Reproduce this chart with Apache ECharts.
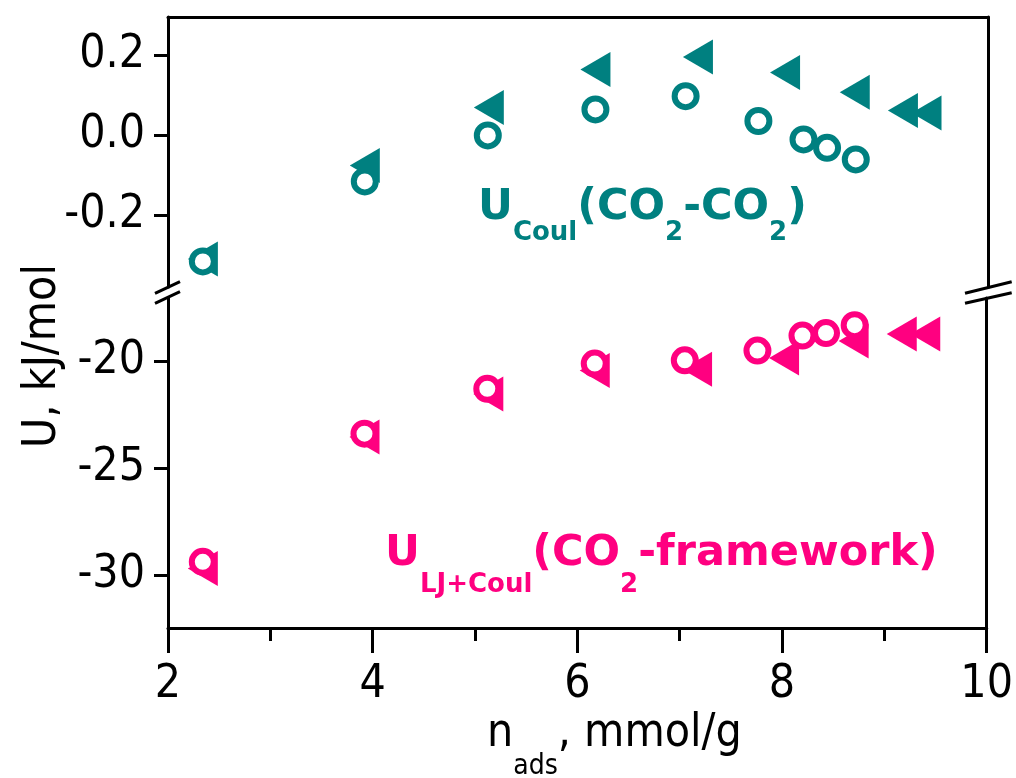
<!DOCTYPE html>
<html>
<head>
<meta charset="utf-8">
<script src="https://cdn.jsdelivr.net/npm/echarts@6/dist/echarts.min.js"></script>
<style>html,body{margin:0;padding:0;background:#fff;}#chart{width:1016px;height:778px;}</style>
</head>
<body>
<div id="chart"></div>
<script>
// ---- data ----
const nCircle = [2.34, 3.92, 5.12, 6.17, 7.05, 7.76, 8.20, 8.43, 8.71];
const nTriangle = [2.34, 3.92, 5.13, 6.17, 7.17, 8.02, 8.70, 9.17, 9.40];
const uCoulCircle = [-0.315, -0.115, 0.000, 0.065, 0.098, 0.036, -0.010, -0.031, -0.060];
const uCoulTriangle = [-0.309, -0.075, 0.070, 0.165, 0.196, 0.157, 0.108, 0.062, 0.056];
const uFwCircle = [-29.38, -23.38, -21.28, -20.10, -19.95, -19.49, -18.79, -18.67, -18.30];
const uFwTriangle = [-29.69, -23.54, -21.53, -20.42, -20.36, -19.84, -19.04, -18.71, -18.71];
const xTicks = [2, 4, 6, 8, 10];
const yTicksTop = [-0.2, 0.0, 0.2];
const yTicksBottom = [-30, -25, -20];

const TEAL = '#008080';
const PINK = '#FF0080';
const FAMILY = '"DejaVu Sans Condensed", "DejaVu Sans", sans-serif';
const BOLD_FAMILY = '"DejaVu Sans", sans-serif';
const TRI = 'path://M30,0 L30,35 L0,17.5 Z';

const zip = (a, b) => a.map((v, i) => [v, b[i]]);

const chart = echarts.init(document.getElementById('chart'), null, {renderer: 'canvas'});

// text-run helper for sub-scripted labels
const mctx = document.createElement('canvas').getContext('2d');
function midRatio(weight, family) {
  mctx.font = `${weight} 100px ${family}`;
  mctx.textBaseline = 'alphabetic';
  const m = mctx.measureText('H');
  if (m.fontBoundingBoxAscent !== undefined) {
    return (m.fontBoundingBoxAscent - m.fontBoundingBoxDescent) / 2 / 100;
  }
  return 0.35;
}
function runText(segs, x0, baseY, mainSize, subSize, subShift, weight, color, family) {
  const mid = midRatio(weight, family);
  let x = x0;
  const els = [];
  segs.forEach(s => {
    const size = s.sub ? subSize : mainSize;
    mctx.font = `${weight} ${size}px ${family}`;
    const w = mctx.measureText(s.t).width;
    const bl = baseY + (s.sub ? subShift : 0);
    els.push({
      type: 'text', x: x, y: bl - mid * size, silent: true,
      style: {text: s.t, fontSize: size, fontFamily: family, fontWeight: weight,
              fill: color, align: 'left', verticalAlign: 'middle'}
    });
    x += w;
  });
  return els;
}

const axisLine = {show: true, onZero: false, lineStyle: {color: '#000', width: 3}};
const noTick = {show: false};
const noLabel = {show: false};
const noSplit = {show: false};

const graphics = [].concat(
  runText([{t: 'U'}, {t: 'Coul', sub: 1}, {t: '(CO'}, {t: '2', sub: 1}, {t: '-CO'}, {t: '2', sub: 1}, {t: ')'}],
          478, 223, 43, 26, 19, 'bold', TEAL, BOLD_FAMILY),
  runText([{t: 'U'}, {t: 'LJ+Coul', sub: 1}, {t: '(CO'}, {t: '2', sub: 1}, {t: '-framework)'}],
          385, 569, 43, 26, 25, 'bold', PINK, BOLD_FAMILY),
  runText([{t: 'n'}, {t: 'ads', sub: 1}, {t: ', mmol/g'}],
          487, 750, 46, 28, 26, 'normal', '#000', FAMILY),
  [
    {type: 'text', x: 43, y: 356, rotation: Math.PI / 2, silent: true,
     style: {text: 'U, kJ/mol', fontSize: 46, fontFamily: FAMILY, fill: '#000', align: 'center', verticalAlign: 'middle'}},
    // axis break marks
    {type: 'line', silent: true, shape: {x1: 155, y1: 293.3, x2: 180, y2: 281.7}, style: {stroke: '#000', lineWidth: 3}},
    {type: 'line', silent: true, shape: {x1: 155, y1: 303.3, x2: 180, y2: 291.7}, style: {stroke: '#000', lineWidth: 3}},
    {type: 'line', silent: true, shape: {x1: 965, y1: 293.3, x2: 1011.7, y2: 281.7}, style: {stroke: '#000', lineWidth: 3}},
    {type: 'line', silent: true, shape: {x1: 965, y1: 303.3, x2: 1011.7, y2: 292.7}, style: {stroke: '#000', lineWidth: 3}}
  ]
);

const option = {
  animation: false,
  backgroundColor: '#fff',
  textStyle: {fontFamily: FAMILY},
  grid: [
    {left: 168, right: 28, top: 17, height: 270},
    {left: 168, right: 28, top: 298, bottom: 150}
  ],
  xAxis: [
    {gridIndex: 0, type: 'value', min: 2, max: 10, position: 'top',
     axisLine: axisLine, axisTick: noTick, axisLabel: noLabel, splitLine: noSplit},
    {gridIndex: 1, type: 'value', min: 2, max: 10, interval: 2, position: 'bottom',
     axisLine: axisLine,
     axisTick: {show: true, inside: false, length: 25, lineStyle: {color: '#000', width: 3}},
     minorTick: {show: true, splitNumber: 2, length: 13, lineStyle: {color: '#000', width: 3}},
     axisLabel: {show: true, color: '#000', fontSize: 46, fontFamily: FAMILY, margin: 34,
                 customValues: xTicks, formatter: v => String(v)},
     splitLine: noSplit, minorSplitLine: noSplit}
  ],
  yAxis: [
    {gridIndex: 0, type: 'value', min: -0.379, max: 0.296, position: 'left',
     axisLine: axisLine,
     axisTick: {show: true, inside: false, length: 14, lineStyle: {color: '#000', width: 3}, customValues: yTicksTop},
     axisLabel: {show: true, color: '#000', fontSize: 46, fontFamily: FAMILY, margin: 23,
                 customValues: yTicksTop, formatter: v => v.toFixed(1)},
     splitLine: noSplit},
    {gridIndex: 0, type: 'value', min: -0.379, max: 0.296, position: 'right',
     axisLine: axisLine, axisTick: noTick, axisLabel: noLabel, splitLine: noSplit},
    {gridIndex: 1, type: 'value', min: -32.48, max: -17.03, position: 'left',
     axisLine: axisLine,
     axisTick: {show: true, inside: false, length: 14, lineStyle: {color: '#000', width: 3}, customValues: yTicksBottom},
     axisLabel: {show: true, color: '#000', fontSize: 46, fontFamily: FAMILY, margin: 23,
                 customValues: yTicksBottom, formatter: v => String(v)},
     splitLine: noSplit},
    {gridIndex: 1, type: 'value', min: -32.48, max: -17.03, position: 'right',
     axisLine: axisLine, axisTick: noTick, axisLabel: noLabel, splitLine: noSplit}
  ],
  series: [
    {type: 'scatter', xAxisIndex: 0, yAxisIndex: 0, clip: false, silent: true,
     symbol: TRI, symbolSize: [30, 35], itemStyle: {color: TEAL, opacity: 1},
     data: zip(nTriangle, uCoulTriangle)},
    {type: 'scatter', xAxisIndex: 0, yAxisIndex: 0, clip: false, silent: true,
     symbol: 'circle', symbolSize: 22, itemStyle: {color: '#fff', borderColor: TEAL, borderWidth: 6, opacity: 1},
     data: zip(nCircle, uCoulCircle)},
    {type: 'scatter', xAxisIndex: 1, yAxisIndex: 2, clip: false, silent: true,
     symbol: TRI, symbolSize: [30, 35], itemStyle: {color: PINK, opacity: 1},
     data: zip(nTriangle, uFwTriangle)},
    {type: 'scatter', xAxisIndex: 1, yAxisIndex: 2, clip: false, silent: true,
     symbol: 'circle', symbolSize: 22, itemStyle: {color: '#fff', borderColor: PINK, borderWidth: 6, opacity: 1},
     data: zip(nCircle, uFwCircle)}
  ],
  graphic: graphics
};
chart.setOption(option);
</script>
</body>
</html>
